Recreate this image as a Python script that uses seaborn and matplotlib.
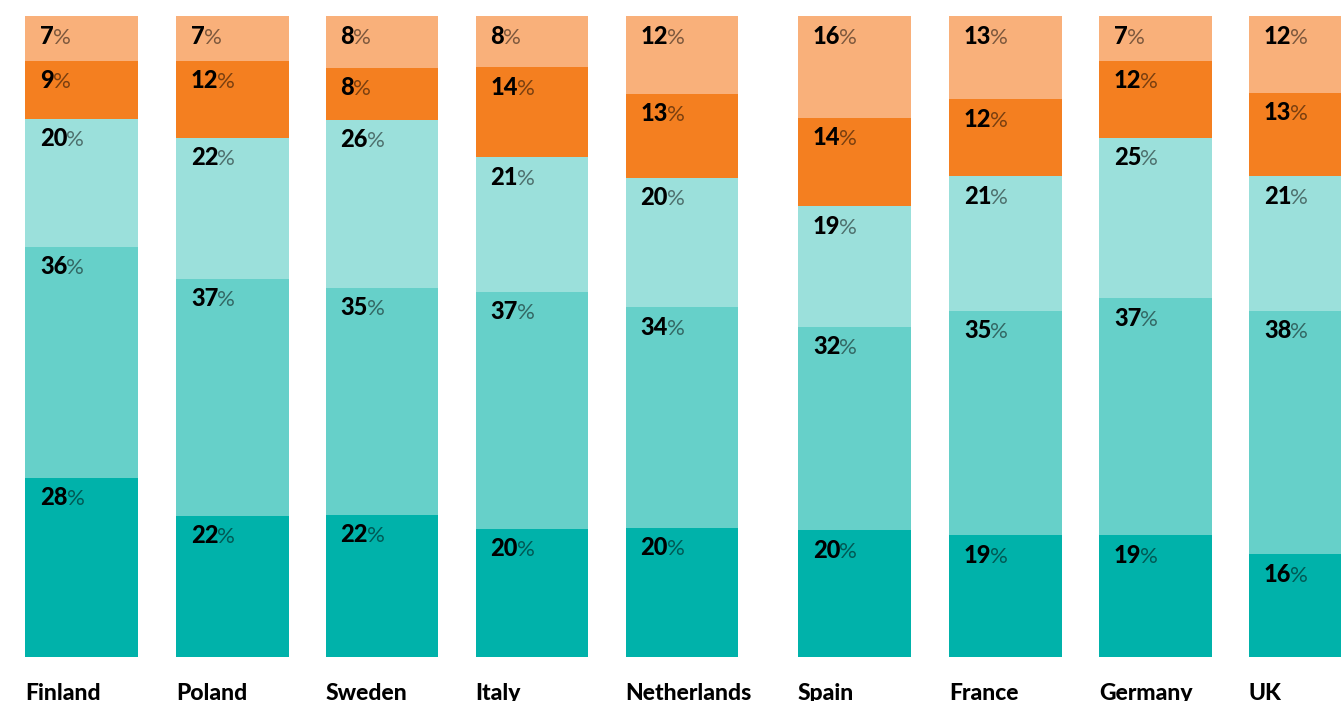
import matplotlib

matplotlib.use("Agg")
import matplotlib.pyplot as plt
import numpy as np
import pandas as pd
import seaborn as sns

countries = ["Finland", "Poland", "Sweden", "Italy", "Netherlands",
             "Spain", "France", "Germany", "UK"]
# segments from bottom to top
seg1 = [28, 22, 22, 20, 20, 20, 19, 19, 16]
seg2 = [36, 37, 35, 37, 34, 32, 35, 37, 38]
seg3 = [20, 22, 26, 21, 20, 19, 21, 25, 21]
seg4 = [9, 12, 8, 14, 13, 14, 12, 12, 13]
seg5 = [7, 7, 8, 8, 12, 16, 13, 7, 12]

colors = ["#00B2AA", "#66D0C9", "#9BE0DB", "#F47F20", "#F9B07A"]

# layout: bar centres in pixel units across the 1341 px wide canvas
centres = [81.5, 232.5, 382, 532, 682, 854.5, 1005.5, 1155.5, 1305.5]
bar_w = 113

W, H = 1341, 701
fig = plt.figure(figsize=(W / 100, H / 100), dpi=100)
ax = fig.add_axes([0, 1 - 657 / H, 1, (657 - 16) / H])

segs = np.array([seg1, seg2, seg3, seg4, seg5], dtype=float)
frac = segs / segs.sum(axis=0)
cum = np.cumsum(frac, axis=0)

# draw tallest (top) first, then overlay lower cumulative layers
for i in range(4, -1, -1):
    df = pd.DataFrame({"x": centres, "y": cum[i]})
    sns.barplot(data=df, x="x", y="y", native_scale=True, width=bar_w / 150,
                color=colors[i], saturation=1, linewidth=0, errorbar=None, ax=ax)

ax.set_xlim(0, W)
ax.set_ylim(0, 1)
ax.axis("off")

fam = ["Lato", "DejaVu Sans"]
for j, c in enumerate(centres):
    left = c - bar_w / 2
    for i in range(5):
        top = cum[i][j]
        t = ax.annotate(f"{int(segs[i][j])}", xy=(left, top), xytext=(15, -20),
                        textcoords="offset pixels", ha="left", va="center",
                        fontsize=17, fontweight=900, family=fam, color="black")
        ax.annotate("%", xy=(1, 0), xycoords=t, xytext=(-1, 0),
                    textcoords="offset pixels", ha="left", va="bottom",
                    fontsize=16, fontweight="normal", family=fam,
                    color="black", alpha=0.5)
    ax.annotate(countries[j], xy=(left, 0), xytext=(0, -43),
                textcoords="offset pixels", ha="left", va="baseline",
                fontsize=16.5, fontweight=900, family=fam, color="black",
                annotation_clip=False)

fig.savefig("out.png", dpi=100)
